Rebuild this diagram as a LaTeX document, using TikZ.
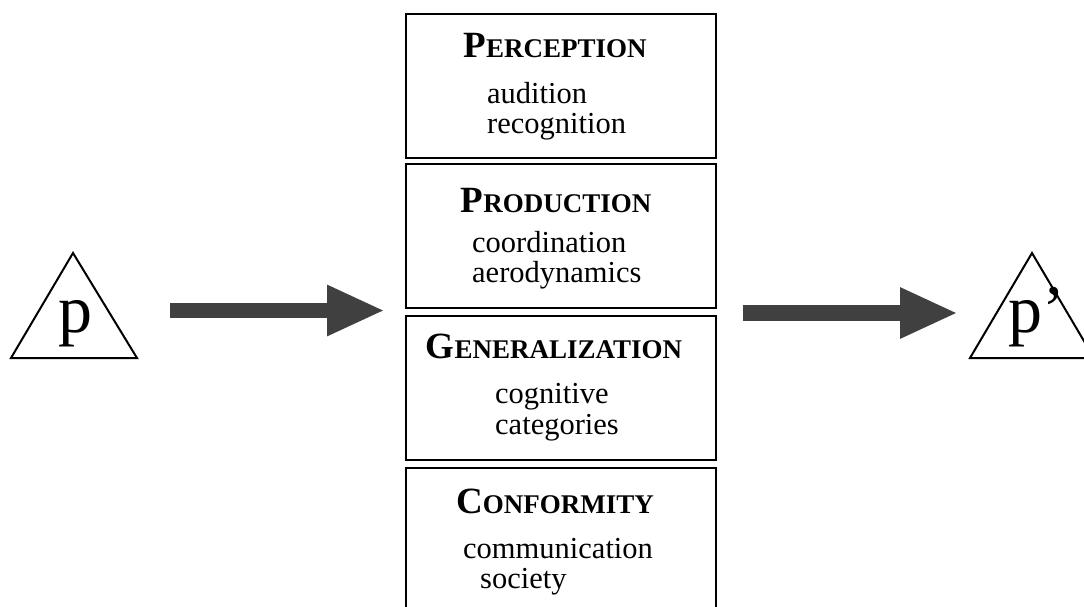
\documentclass[tikz,border=0pt]{standalone}
\usepackage{fontspec}
\setmainfont{Liberation Serif}
\usetikzlibrary{arrows.meta}
\definecolor{arrowgray}{HTML}{404040}
\newcommand\hdtext[2]{{\bfseries\fontsize{37}{37}\selectfont #1\fontsize{27}{27}\selectfont #2}}
\tikzset{
  stackbox/.style={draw=black, line width=2pt, minimum width=310pt, minimum height=144pt, inner sep=0pt, anchor=north west},
  heading/.style={anchor=base, inner sep=0pt},
  bodyline/.style={anchor=base west, inner sep=0pt, font=\fontsize{30.5}{30.5}\selectfont},
  tri/.style={draw=black, line width=2pt, line join=miter},
  bigp/.style={anchor=base, inner sep=0pt, font=\fontsize{68}{68}\selectfont},
  fatarrow/.style={draw=arrowgray, line width=15.5pt, -{Triangle[length=58pt,width=47pt]}}
}
\begin{document}
\begin{tikzpicture}[x=1pt,y=-1pt]
\useasboundingbox (0,0) rectangle (1084,606);
\clip (0,0) rectangle (1084,606);
% boxes
\node[stackbox] (b1) at (405,13) {};
\node[stackbox] (b2) at (405,163) {};
\node[stackbox] (b3) at (405,315) {};
\node[stackbox] (b4) at (405,467) {};
% headings
\node[heading] (h1) at (555,57) {\hdtext{P}{ERCEPTION}};
\node[heading] (h2) at (556,212) {\hdtext{P}{RODUCTION}};
\node[heading] (h3) at (554,358) {\hdtext{G}{ENERALIZATION}};
\node[heading] (h4) at (555,513) {\hdtext{C}{ONFORMITY}};
% body lines
\node[bodyline] (t1a) at (487,103) {audition};
\node[bodyline] (t1b) at (487,133) {recognition};
\node[bodyline] (t2a) at (472,252) {coordination};
\node[bodyline] (t2b) at (472,282) {aerodynamics};
\node[bodyline] (t3a) at (495,403) {cognitive};
\node[bodyline] (t3b) at (495,434) {categories};
\node[bodyline] (t4a) at (463,558) {communication};
\node[bodyline] (t4b) at (480,588) {society};
% triangles
\coordinate (lA) at (73,253);
\coordinate (lB) at (11,358);
\coordinate (lC) at (137,358);
\draw[tri] (lA) -- (lB) -- (lC) -- cycle;
\node[bigp] (pl) at (75,332) {p};
\coordinate (rA) at (1032,253);
\coordinate (rB) at (970,358);
\coordinate (rC) at (1094,358);
\draw[tri] (rA) -- (rB) -- (rC) -- cycle;
\node[bigp] (pr) at (1037,332) {p’};
% arrows
\coordinate (a1s) at (170,310.5);
\coordinate (a1e) at (385,310.5);
\coordinate (a2s) at (743,313);
\coordinate (a2e) at (958,313);
\draw[fatarrow] (a1s) -- (a1e);
\draw[fatarrow] (a2s) -- (a2e);
\end{tikzpicture}
\end{document}
